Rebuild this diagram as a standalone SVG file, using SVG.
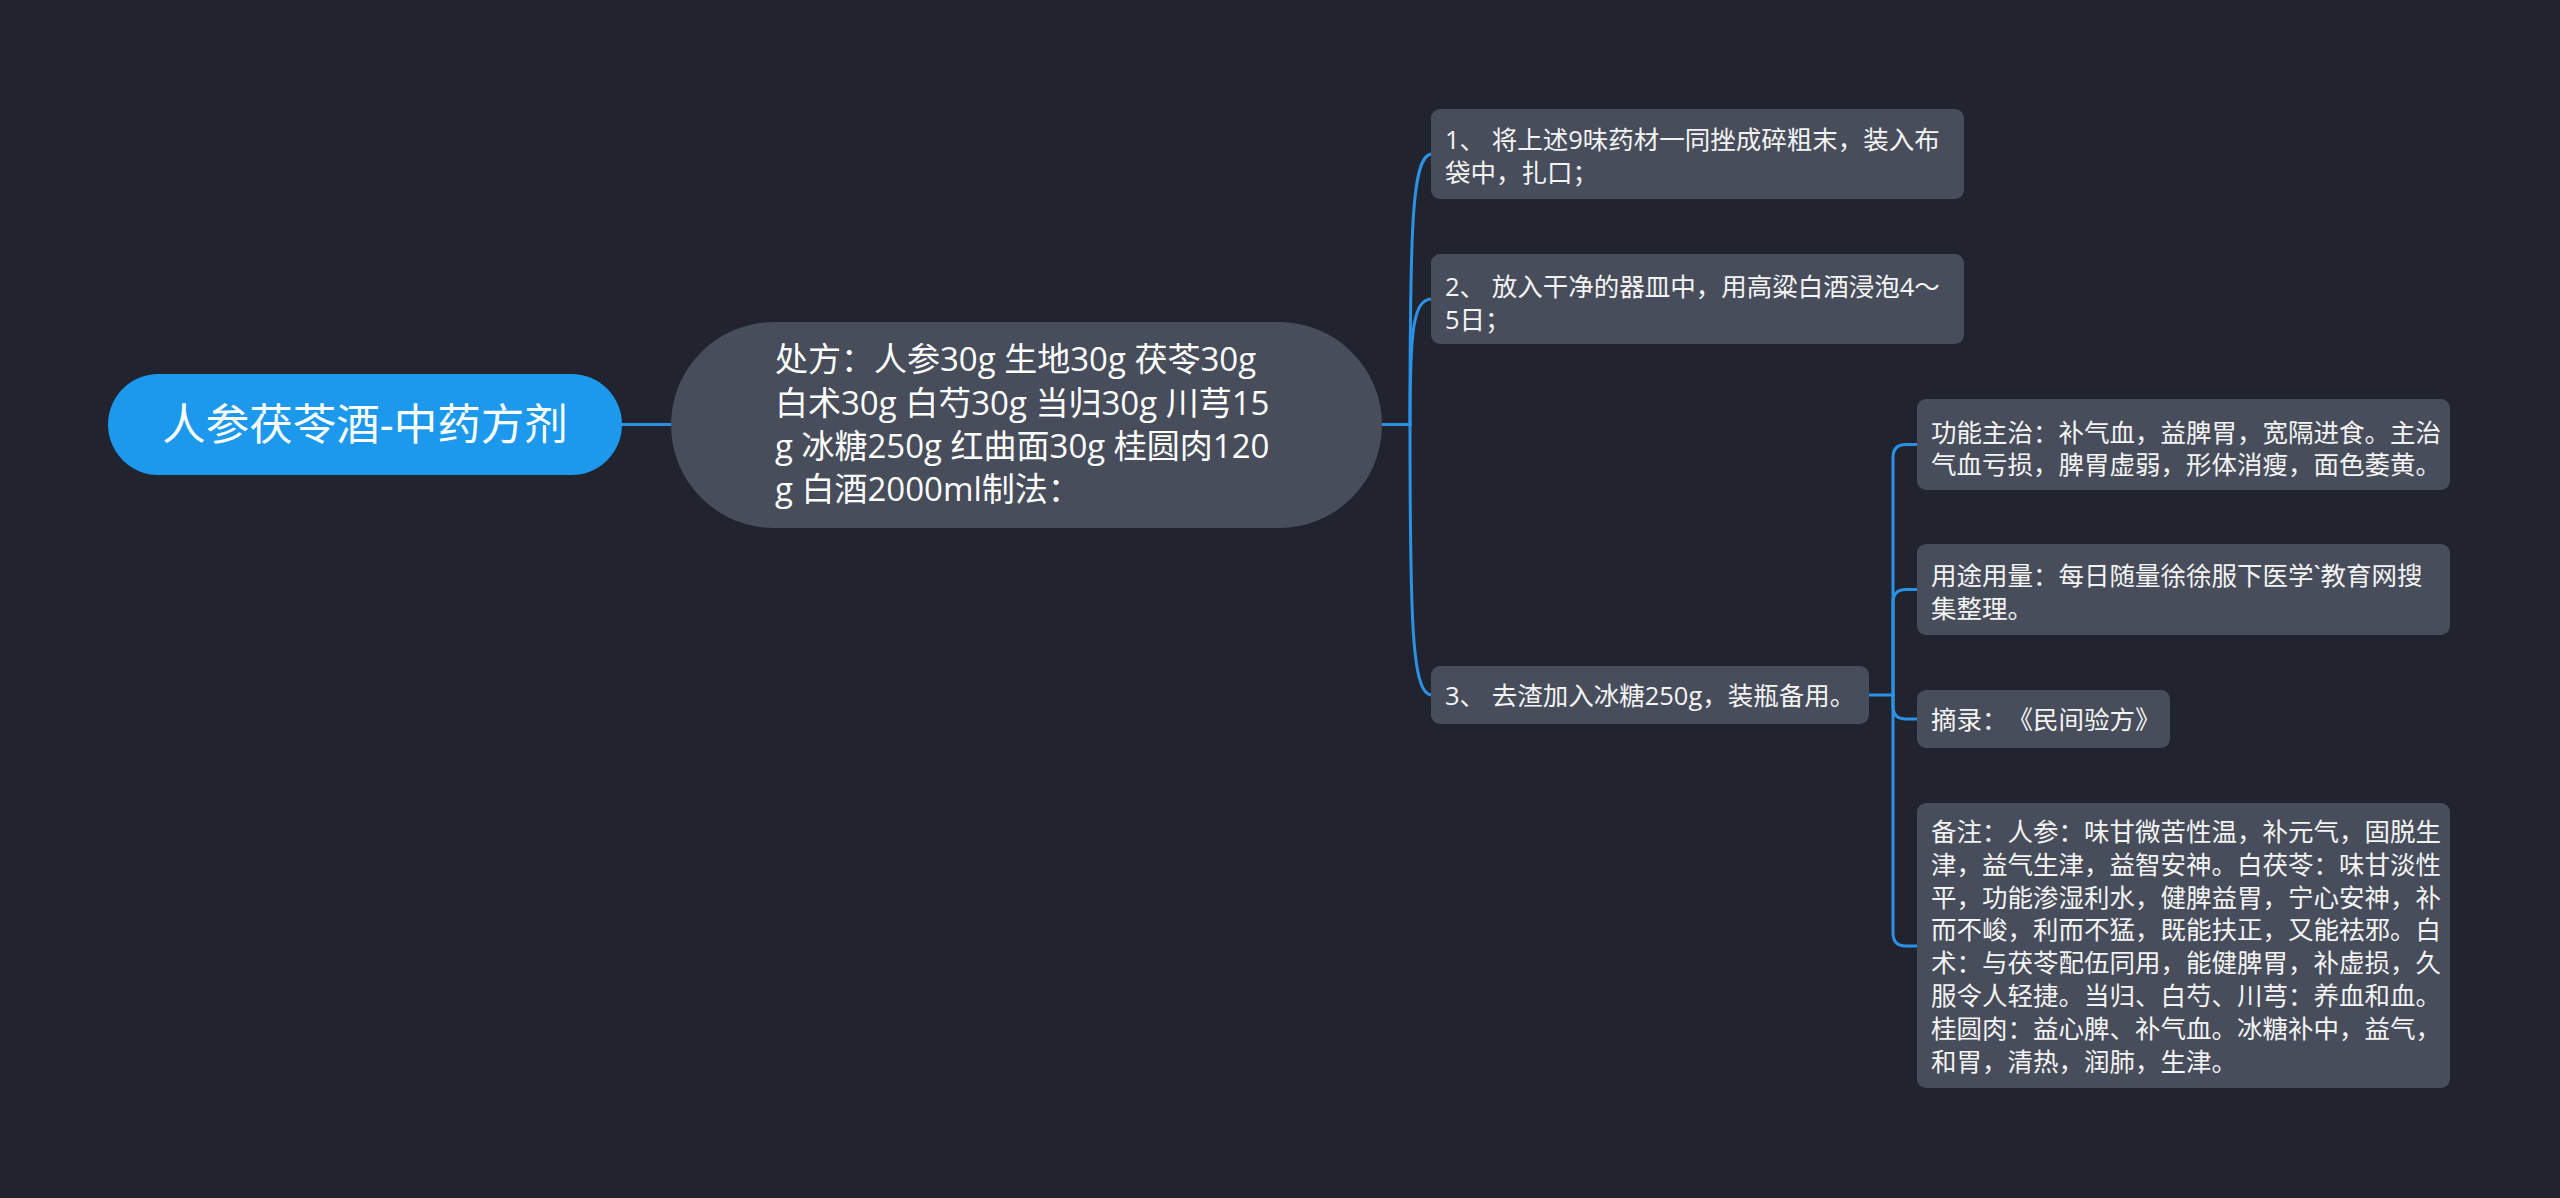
<svg xmlns="http://www.w3.org/2000/svg" width="2560" height="1198" viewBox="0 0 2560 1198">
<style>
.bg{fill:#21242f}
.node{fill:#484d5c}
.root{fill:#1c98ed}
.t{font-family:"Open Sans","Noto Sans CJK SC",sans-serif;fill:#ffffff;text-spacing-trim:space-all}
.tr{font-size:43.5px}
.tm{font-size:33px}
.ts{font-size:25.5px;fill:#f4f4f4}
.c{fill:none;stroke:#2a91e4;stroke-width:3;stroke-linecap:round}
</style>
<rect class="bg" x="0" y="0" width="2560" height="1198"/>
<g id="connectors">
<path class="c" d="M622,424.5 L671,424.5"/>
<path class="c" d="M1382,424.5 L1410,424.5"/>
<path class="c" d="M1410,424.5 C1410,225 1412,154 1432,154"/>
<path class="c" d="M1410,424.5 C1410,330 1413,299 1432,299"/>
<path class="c" d="M1410,424.5 C1410,625 1412,695 1432,695"/>
<path class="c" d="M1869,695 L1893,695"/>
<path class="c" d="M1893,695 V457.5 Q1893,444.5 1906,444.5 H1918"/>
<path class="c" d="M1893,695 V602.5 Q1893,589.5 1906,589.5 H1918"/>
<path class="c" d="M1893,695 V706 Q1893,719 1906,719 H1918"/>
<path class="c" d="M1893,695 V933 Q1893,946 1906,946 H1918"/>
</g>
<g id="root">
<rect class="root" x="108" y="374" width="514" height="101" rx="50.5"/>
<text class="t tr" x="365" y="439.5" text-anchor="middle">人参茯苓酒-中药方剂</text>
</g>
<g id="recipe">
<rect class="node" x="671" y="322" width="711" height="206" rx="103"/>
<text class="t tm" x="775" y="371">处方：人参30g 生地30g 茯苓30g</text>
<text class="t tm" x="775" y="414.5">白术30g 白芍30g 当归30g 川芎15</text>
<text class="t tm" x="775" y="458">g 冰糖250g 红曲面30g 桂圆肉120</text>
<text class="t tm" x="775" y="501">g 白酒2000ml制法：</text>
</g>
<g id="step1">
<rect class="node" x="1431" y="109" width="533" height="90" rx="9"/>
<text class="t ts" x="1445" y="148.5">1、 将上述9味药材一同挫成碎粗末，装入布</text>
<text class="t ts" x="1445" y="181.5">袋中，扎口；</text>
</g>
<g id="step2">
<rect class="node" x="1431" y="254" width="533" height="90" rx="9"/>
<text class="t ts" x="1445" y="295.5">2、 放入干净的器皿中，用高粱白酒浸泡4～</text>
<text class="t ts" x="1445" y="328.5">5日；</text>
</g>
<g id="step3">
<rect class="node" x="1431" y="666" width="438" height="58" rx="9"/>
<text class="t ts" x="1445" y="704.5">3、 去渣加入冰糖250g，装瓶备用。</text>
</g>
<g id="function">
<rect class="node" x="1917" y="399" width="533" height="91" rx="9"/>
<text class="t ts" x="1931" y="441.5">功能主治：补气血，益脾胃，宽隔进食。主治</text>
<text class="t ts" x="1931" y="474">气血亏损，脾胃虚弱，形体消瘦，面色萎黄。</text>
</g>
<g id="usage">
<rect class="node" x="1917" y="544" width="533" height="91" rx="9"/>
<text class="t ts" x="1931" y="584.5">用途用量：每日随量徐徐服下医学`教育网搜</text>
<text class="t ts" x="1931" y="617.5">集整理。</text>
</g>
<g id="source">
<rect class="node" x="1917" y="690" width="253" height="58" rx="9"/>
<text class="t ts" x="1931" y="729">摘录：《民间验方》</text>
</g>
<g id="notes">
<rect class="node" x="1917" y="803" width="533" height="285" rx="9"/>
<text class="t ts" x="1931" y="841">备注：人参：味甘微苦性温，补元气，固脱生</text>
<text class="t ts" x="1931" y="873.8">津，益气生津，益智安神。白茯苓：味甘淡性</text>
<text class="t ts" x="1931" y="906.6">平，功能渗湿利水，健脾益胃，宁心安神，补</text>
<text class="t ts" x="1931" y="939.4">而不峻，利而不猛，既能扶正，又能祛邪。白</text>
<text class="t ts" x="1931" y="972.2">术：与茯苓配伍同用，能健脾胃，补虚损，久</text>
<text class="t ts" x="1931" y="1005">服令人轻捷。当归、白芍、川芎：养血和血。</text>
<text class="t ts" x="1931" y="1037.8">桂圆肉：益心脾、补气血。冰糖补中，益气，</text>
<text class="t ts" x="1931" y="1070.6">和胃，清热，润肺，生津。</text>
</g>
</svg>
